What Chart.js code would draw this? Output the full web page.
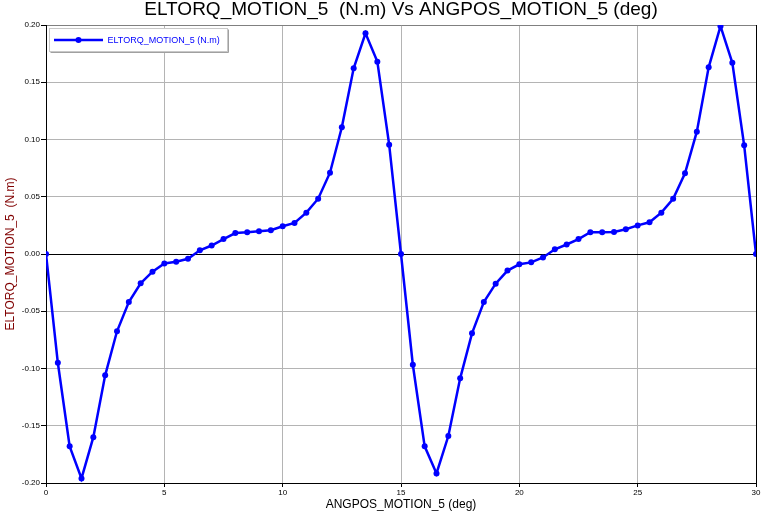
<!DOCTYPE html>
<html>
<head>
<meta charset="utf-8">
<title>ELTORQ_MOTION_5 vs ANGPOS_MOTION_5</title>
<script src="https://cdn.jsdelivr.net/npm/chart.js@4/dist/chart.umd.min.js"></script>
<style>
  html, body { margin: 0; padding: 0; background: #fff; }
  #wrap { width: 763px; height: 514px; position: relative; }
</style>
</head>
<body>
<div id="wrap"><canvas id="torqueChart"></canvas></div>
<script>
// angle positions (deg)
var angles = [
  0, 0.5, 1, 1.5, 2, 2.5, 3, 3.5, 4, 4.5, 5, 5.5, 6, 6.5, 7, 7.5, 8, 8.5, 9, 9.5,
  10, 10.5, 11, 11.5, 12, 12.5, 13, 13.5, 14, 14.5, 15, 15.5, 16, 16.5, 17, 17.5,
  18, 18.5, 19, 19.5, 20, 20.5, 21, 21.5, 22, 22.5, 23, 23.5, 24, 24.5, 25, 25.5,
  26, 26.5, 27, 27.5, 28, 28.5, 29, 29.5, 30
];

// electrical torque (N.m)
var torque = [
  0, -0.095, -0.168, -0.196, -0.160, -0.106, -0.0675, -0.042, -0.0256, -0.0154,
  -0.0082, -0.0067, -0.0042, 0.0032, 0.0074, 0.013, 0.0183, 0.0189, 0.0198, 0.0207,
  0.0242, 0.0271, 0.0361, 0.0483, 0.071, 0.1107, 0.1622, 0.1928, 0.168, 0.0955,
  0, -0.0967, -0.168, -0.1916, -0.159, -0.1086, -0.0693, -0.042, -0.0259, -0.0145,
  -0.009, -0.0073, -0.003, 0.0041, 0.0083, 0.013, 0.019, 0.019, 0.0192, 0.0216,
  0.025, 0.0277, 0.0361, 0.0483, 0.0705, 0.1068, 0.163, 0.199, 0.167, 0.0949,
  0
];

var xTicks = [0, 5, 10, 15, 20, 25, 30];
var yTicks = [-0.20, -0.15, -0.10, -0.05, 0.00, 0.05, 0.10, 0.15, 0.20];

var seriesLabel = 'ELTORQ_MOTION_5 (N.m)';
var chartTitle = 'ELTORQ_MOTION_5  (N.m) Vs ANGPOS_MOTION_5 (deg)';
var xTitle = 'ANGPOS_MOTION_5 (deg)';
var yTitle = 'ELTORQ_MOTION_5  (N.m)';

var FONT = '"Liberation Sans", Arial, sans-serif';
var LINE_BLUE = '#0000ff';

var points = angles.map(function (a, i) { return { x: a, y: torque[i] }; });

// boxed legend in the top-left corner of the plot, like the original tool draws it
var boxLegend = {
  id: 'boxLegend',
  afterDraw: function (chart) {
    var ctx = chart.ctx;
    var area = chart.chartArea;
    var ds = chart.data.datasets[0];
    var x = area.left + 3.5, y = area.top + 3.5, w = 178, h = 23;
    ctx.save();
    ctx.fillStyle = '#fff';
    ctx.fillRect(x, y, w, h);
    ctx.strokeStyle = '#c8c8c8';
    ctx.lineWidth = 1;
    ctx.strokeRect(x, y, w, h);
    ctx.strokeStyle = '#a0a0a0';
    ctx.beginPath();
    ctx.moveTo(x + 1, y + h + 1);
    ctx.lineTo(x + w + 1, y + h + 1);
    ctx.lineTo(x + w + 1, y + 1);
    ctx.stroke();

    var cy = y + 11.5;
    ctx.strokeStyle = ds.borderColor;
    ctx.lineWidth = 2.5;
    ctx.beginPath();
    ctx.moveTo(x + 4.5, cy);
    ctx.lineTo(x + 53.5, cy);
    ctx.stroke();
    ctx.fillStyle = ds.borderColor;
    ctx.beginPath();
    ctx.arc(x + 29, cy, 3, 0, Math.PI * 2);
    ctx.fill();

    ctx.font = '9px ' + FONT;
    ctx.textBaseline = 'middle';
    ctx.textAlign = 'left';
    ctx.fillText(ds.label, x + 58, cy + 0.5);
    ctx.restore();
  }
};

new Chart(document.getElementById('torqueChart').getContext('2d'), {
  type: 'scatter',
  data: {
    datasets: [{
      label: seriesLabel,
      data: points,
      showLine: true,
      borderColor: LINE_BLUE,
      backgroundColor: LINE_BLUE,
      borderWidth: 2.5,
      pointRadius: 3,
      pointHoverRadius: 3,
      pointBorderWidth: 0,
      tension: 0
    }]
  },
  options: {
    responsive: true,
    maintainAspectRatio: false,
    animation: false,
    layout: { padding: { left: 0, right: 7, top: 0, bottom: 0 } },
    scales: {
      x: {
        type: 'linear',
        min: 0,
        max: 30,
        afterBuildTicks: function (scale) {
          scale.ticks = xTicks.map(function (v) { return { value: v }; });
        },
        afterFit: function (scale) { scale.height = 31; },
        ticks: {
          color: '#000',
          font: { family: FONT, size: 8 },
          padding: 1,
          maxRotation: 0,
          autoSkip: false,
          callback: function (v) { return String(v); }
        },
        grid: {
          color: function (c) { return c.tick && c.tick.value === 30 ? '#000' : '#b4b4b4'; },
          tickColor: '#000',
          tickLength: 4,
          lineWidth: 1
        },
        border: { color: '#000', width: 1 },
        title: {
          display: true,
          text: xTitle,
          color: '#000',
          font: { family: FONT, size: 12 },
          padding: { top: 0, bottom: 2 }
        }
      },
      y: {
        type: 'linear',
        min: -0.2,
        max: 0.2,
        afterBuildTicks: function (scale) {
          scale.ticks = yTicks.map(function (v) { return { value: v }; });
        },
        afterFit: function (scale) { scale.width = 46; },
        ticks: {
          color: '#000',
          font: { family: FONT, size: 8 },
          padding: 1,
          autoSkip: false,
          callback: function (v) { return Number(v).toFixed(2); }
        },
        grid: {
          color: function (c) {
            if (!c.tick) return '#b4b4b4';
            if (Math.abs(c.tick.value) < 1e-9) return '#000';
            if (Math.abs(c.tick.value - 0.2) < 1e-9) return '#808080';
            return '#b4b4b4';
          },
          tickColor: '#000',
          tickLength: 5,
          lineWidth: 1
        },
        border: { color: '#000', width: 1 },
        title: {
          display: true,
          text: yTitle,
          color: '#800000',
          font: { family: FONT, size: 12 },
          padding: { top: 3, bottom: 0 }
        }
      }
    },
    plugins: {
      legend: { display: false },
      tooltip: { enabled: false },
      title: {
        display: true,
        text: chartTitle,
        fullSize: false,
        color: '#000',
        font: { family: FONT, size: 19, weight: 'normal', lineHeight: 1 },
        padding: { top: 0.5, bottom: 5.5 }
      }
    }
  },
  plugins: [boxLegend]
});
</script>
</body>
</html>
